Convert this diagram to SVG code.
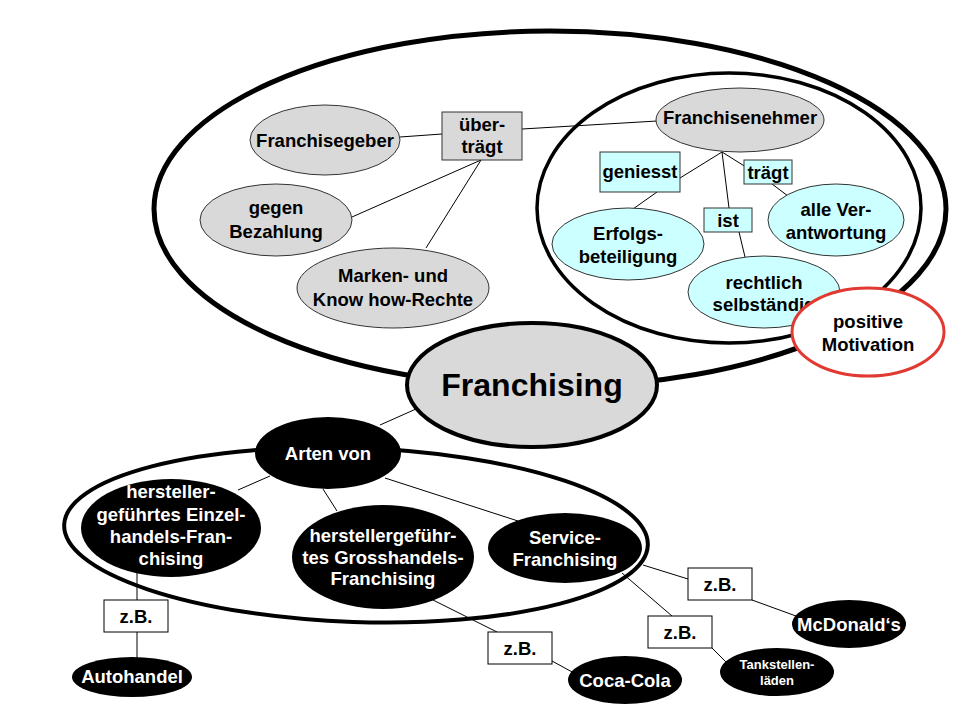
<svg xmlns="http://www.w3.org/2000/svg" width="960" height="720" viewBox="0 0 960 720">
<style>
text{font-family:"Liberation Sans",Arial,sans-serif;font-weight:bold;text-anchor:middle;font-size:18.5px;fill:#000}
.w{fill:#fff}
.g{fill:#d9d9d9;stroke:#333;stroke-width:1}
.c{fill:#ccffff;stroke:#333;stroke-width:1}
.b{fill:#000}
.box{fill:#fff;stroke:#000;stroke-width:1}
.ln{stroke:#000;stroke-width:1;fill:none}
.grp{fill:none;stroke:#000}
</style>
<rect width="960" height="720" fill="#fff"/>
<g id="clusters">
<ellipse cx="550" cy="209" rx="396" ry="178" class="grp" stroke-width="5"/>
<ellipse cx="729" cy="208" rx="192" ry="135" class="grp" stroke-width="3.5"/>
<ellipse cx="356" cy="535" rx="292" ry="87" transform="rotate(2 356 535)" class="grp" stroke-width="4"/>
</g>
<g id="connectors" class="ln">
<line x1="400" y1="137" x2="442" y2="134"/>
<line x1="522" y1="129" x2="657" y2="121"/>
<line x1="481" y1="160" x2="352" y2="217"/>
<line x1="481" y1="160" x2="426" y2="248"/>
<line x1="722" y1="152" x2="680" y2="178"/>
<line x1="657" y1="192" x2="633" y2="209"/>
<line x1="722" y1="152" x2="746" y2="167"/>
<line x1="772" y1="184" x2="788" y2="196"/>
<line x1="722" y1="152" x2="729" y2="208"/>
<line x1="739" y1="232" x2="745" y2="257"/>
<line x1="380" y1="425" x2="416" y2="409"/>
<line x1="270" y1="476" x2="238" y2="490"/>
<line x1="323" y1="489" x2="337" y2="511"/>
<line x1="385" y1="478" x2="518" y2="521"/>
<line x1="137" y1="573" x2="137" y2="600"/>
<line x1="137" y1="632" x2="137" y2="658"/>
<line x1="433" y1="600" x2="497" y2="632"/>
<line x1="552" y1="661" x2="574" y2="673"/>
<line x1="643" y1="565" x2="688" y2="579"/>
<line x1="752" y1="600" x2="796" y2="616"/>
<line x1="622" y1="573" x2="672" y2="616"/>
<line x1="712" y1="648" x2="728" y2="664"/>
</g>
<g id="franchisegeber"><ellipse cx="325" cy="140" rx="75" ry="35" class="g"/><text x="325" y="147">Franchisegeber</text></g>
<g id="uebertraegt"><rect x="442" y="112" width="80" height="48" class="g"/><text x="482" y="131">über-</text><text x="482" y="153">trägt</text></g>
<g id="gegen-bezahlung"><ellipse cx="276" cy="220" rx="76" ry="36" class="g"/><text x="276" y="214">gegen</text><text x="276" y="238">Bezahlung</text></g>
<g id="marken"><ellipse cx="393" cy="288" rx="96" ry="40" class="g"/><text x="393" y="282">Marken- und</text><text x="393" y="306">Know how-Rechte</text></g>
<g id="franchisenehmer"><ellipse cx="740" cy="120" rx="84" ry="32" class="g"/><text x="740" y="124">Franchisenehmer</text></g>
<g id="geniesst"><rect x="600" y="152" width="80" height="40" class="c"/><text x="640" y="178">geniesst</text></g>
<g id="traegt"><rect x="744" y="160" width="48" height="24" class="c"/><text x="768" y="179">trägt</text></g>
<g id="ist"><rect x="704" y="208" width="48" height="24" class="c"/><text x="728" y="227">ist</text></g>
<g id="erfolgsbeteiligung"><ellipse cx="628" cy="244" rx="76" ry="36" class="c"/><text x="628" y="240">Erfolgs-</text><text x="628" y="263">beteiligung</text></g>
<g id="verantwortung"><ellipse cx="836" cy="220" rx="68" ry="36" class="c"/><text x="836" y="216">alle Ver-</text><text x="836" y="239">antwortung</text></g>
<g id="selbstaendig"><ellipse cx="764" cy="292" rx="76" ry="36" class="c"/><text x="764" y="289">rechtlich</text><text x="764" y="311">selbständig</text></g>
<g id="motivation"><ellipse cx="868" cy="332" rx="76" ry="44" fill="#fff" stroke="#e03a32" stroke-width="3"/><text x="868" y="328">positive</text><text x="868" y="351">Motivation</text></g>
<g id="franchising"><ellipse cx="532" cy="385" rx="125" ry="62" fill="#d9d9d9" stroke="#000" stroke-width="4"/><text x="532" y="396" style="font-size:32px">Franchising</text></g>
<g id="arten-von"><ellipse cx="328" cy="453" rx="73" ry="36" class="b"/><text x="328" y="460" class="w">Arten von</text></g>
<g id="einzelhandel"><ellipse cx="171" cy="528" rx="90" ry="49" class="b"/><text x="171" y="498" class="w">hersteller-</text><text x="171" y="521" class="w">geführtes Einzel-</text><text x="171" y="543" class="w">handels-Fran-</text><text x="171" y="565" class="w">chising</text></g>
<g id="grosshandel"><ellipse cx="383" cy="557" rx="91" ry="52" class="b"/><text x="383" y="542" class="w">herstellergeführ-</text><text x="383" y="564" class="w">tes Grosshandels-</text><text x="383" y="585" class="w">Franchising</text></g>
<g id="service"><ellipse cx="565" cy="548" rx="77" ry="35" class="b"/><text x="565" y="544" class="w">Service-</text><text x="565" y="566" class="w">Franchising</text></g>
<g id="zb1"><rect x="104" y="600" width="64" height="32" class="box"/><text x="136" y="623">z.B.</text></g>
<g id="zb2"><rect x="488" y="632" width="64" height="32" class="box"/><text x="520" y="655">z.B.</text></g>
<g id="zb3"><rect x="648" y="616" width="64" height="32" class="box"/><text x="680" y="639">z.B.</text></g>
<g id="zb4"><rect x="688" y="568" width="64" height="32" class="box"/><text x="720" y="591">z.B.</text></g>
<g id="autohandel"><ellipse cx="132" cy="677" rx="60" ry="20" class="b"/><text x="132" y="683" class="w">Autohandel</text></g>
<g id="cocacola"><ellipse cx="625" cy="680" rx="57" ry="24" class="b"/><text x="625" y="687" class="w">Coca-Cola</text></g>
<g id="tankstellen"><ellipse cx="777" cy="672" rx="57" ry="24" class="b"/><text x="777" y="669" class="w" style="font-size:13px">Tankstellen-</text><text x="777" y="685" class="w" style="font-size:13px">läden</text></g>
<g id="mcdonalds"><ellipse cx="849" cy="624" rx="57" ry="24" class="b"/><text x="849" y="631" class="w">McDonald‘s</text></g>
</svg>
